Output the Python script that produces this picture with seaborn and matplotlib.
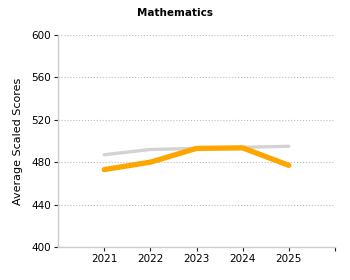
import pandas as pd
import seaborn as sns
import matplotlib.pyplot as plt

# data
years = [2021, 2022, 2023, 2024, 2025]
state_scores = [473, 480, 493, 493.5, 477]
national_scores = [487, 492, 493, 494, 495]

df = pd.DataFrame({
    'Year': years * 2,
    'Score': state_scores + national_scores,
    'Group': ['State'] * len(years) + ['National'] * len(years),
})

sns.set_style("white")
plt.rcParams['font.family'] = ['DejaVu Sans']
plt.rcParams['text.color'] = 'black'

fig = plt.figure(figsize=(3.5, 2.8), dpi=100)
ax = fig.add_axes([0.166, 0.118, 0.791, 0.757])

sns.lineplot(data=df[df['Group'] == 'National'], x='Year', y='Score',
             color='#d3d3d3', linewidth=2.4, ax=ax)
sns.lineplot(data=df[df['Group'] == 'State'], x='Year', y='Score',
             color='#ffa500', linewidth=3.8, ax=ax)

ax.set_xlim(2020, 2026)
ax.set_ylim(400, 600)
ax.set_xticks([2021, 2022, 2023, 2024, 2025, 2026])
ax.set_xticklabels([str(y) for y in years] + [''])
ax.set_yticks(range(400, 601, 40))
ax.tick_params(axis='both', direction='out', length=3, width=0.8,
               color='#222222', labelcolor='black', labelsize=7.5, pad=2,
               bottom=True, left=True)
ax.yaxis.grid(True, linestyle=':', color='#bbbbbb', linewidth=0.8)
ax.set_axisbelow(True)

for side in ['top', 'right']:
    ax.spines[side].set_visible(False)
for side in ['left', 'bottom']:
    ax.spines[side].set_color('#cccccc')
    ax.spines[side].set_linewidth(1)

ax.set_xlabel('')
ax.set_ylabel('Average Scaled Scores', fontsize=8, labelpad=6, color='black')
fig.suptitle('Mathematics', fontsize=7.5, fontweight='bold', y=0.97,
             color='black')

plt.savefig('out.png', dpi=100)
